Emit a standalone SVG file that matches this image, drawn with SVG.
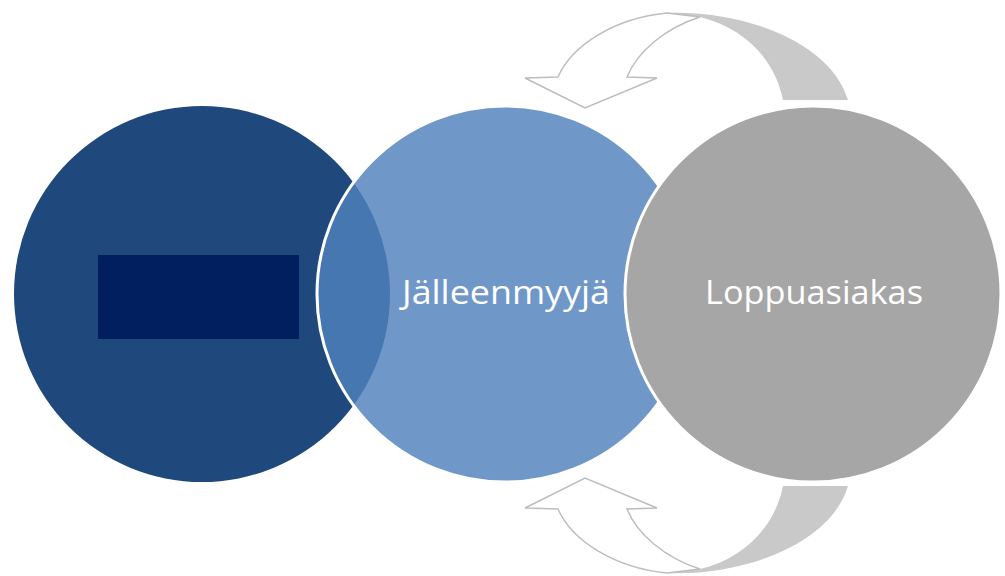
<svg xmlns="http://www.w3.org/2000/svg" width="1005" height="576" viewBox="0 0 1005 576">
  <defs>
    <style>
      .label { font-family: "Open Sans", "Liberation Sans", sans-serif; font-size: 33px; fill: #ffffff; text-anchor: middle; }
      .ring { stroke: #ffffff; stroke-width: 3; }
      .front { fill: #ffffff; stroke: #bdbdbd; stroke-width: 1.5; stroke-linejoin: miter; }
      .back { fill: #c9c9c9; stroke: none; }
    </style>
    <!-- curved return arrow: shaded back ribbon plus outlined front with head -->
    <g id="loopArrow">
      <path class="back" d="M 667,13 C 740,10 830,40 848,100 L 783,100 C 775,60 745,28 700,17 Z"/>
      <path class="front" d="M 525,78 L 585,108 L 657,78 L 627,77 C 637,52 665,28 700,17 L 667,13 C 615,18 572,45 558,77 Z"/>
    </g>
  </defs>

  <rect width="1005" height="576" fill="#ffffff"/>

  <g id="connectors">
    <use href="#loopArrow"/>
    <use href="#loopArrow" transform="matrix(1 0 0 -1 0 586)"/>
  </g>

  <g id="node-valmistaja">
    <circle cx="202" cy="294" r="188" fill="#1f497d"/>
    <rect x="98" y="255" width="201" height="84" fill="#011e5e"/>
  </g>

  <g id="node-jalleenmyyja">
    <circle class="ring" cx="505" cy="294" r="188" fill="#4f81bd" fill-opacity="0.82"/>
    <text class="label" x="506" y="304" textLength="208" lengthAdjust="spacingAndGlyphs">Jälleenmyyjä</text>
  </g>

  <g id="node-loppuasiakas">
    <circle class="ring" cx="813" cy="294" r="188" fill="#a6a6a6"/>
    <text class="label" x="814" y="304" textLength="218" lengthAdjust="spacingAndGlyphs">Loppuasiakas</text>
  </g>
</svg>
